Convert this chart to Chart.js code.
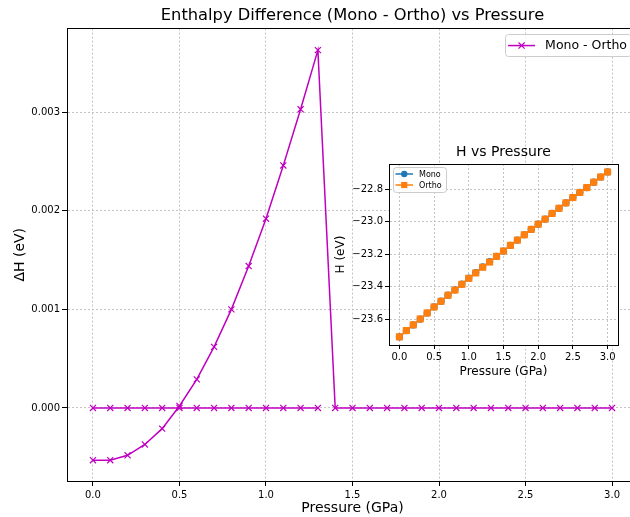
<!DOCTYPE html>
<html>
<head>
<meta charset="utf-8">
<script src="https://cdn.jsdelivr.net/npm/chart.js@4.4.0/dist/chart.umd.min.js"></script>
<style>
  html, body { margin: 0; padding: 0; background: #fff; overflow: hidden; }
  #wrap { position: relative; width: 630px; height: 517px; overflow: hidden; }
  #main { position: absolute; left: 0; top: 0; }
  #inset { position: absolute; left: 320px; top: 130px; }
</style>
</head>
<body>
<div id="wrap">
  <canvas id="main" width="645" height="517"></canvas>
  <canvas id="inset" width="310" height="250"></canvas>
</div>
<script>
// pressure grid (GPa)
const pressure = [0.0, 0.1, 0.2, 0.3, 0.4, 0.5, 0.6, 0.7, 0.8, 0.9, 1.0, 1.1, 1.2, 1.3, 1.4, 1.5,
  1.6, 1.7, 1.8, 1.9, 2.0, 2.1, 2.2, 2.3, 2.4, 2.5, 2.6, 2.7, 2.8, 2.9, 3.0];
// Mono - Ortho enthalpy difference (eV)
const deltaH = [-0.00053, -0.00053, -0.00048, -0.00037, -0.00021, 0.00002, 0.00029, 0.00062,
  0.00100, 0.00144, 0.00192, 0.00246, 0.00303, 0.00363, 0, 0, 0, 0, 0, 0, 0, 0, 0, 0, 0, 0,
  0, 0, 0, 0, 0];
// the flat zero branch below 1.4 GPa
const pressureLow = [0.0, 0.1, 0.2, 0.3, 0.4, 0.5, 0.6, 0.7, 0.8, 0.9, 1.0, 1.1, 1.2, 1.3];
const deltaHLow = [0, 0, 0, 0, 0, 0, 0, 0, 0, 0, 0, 0, 0, 0];

// inset: enthalpy of each phase (eV)
const hMono = [-23.7085, -23.6695, -23.6345, -23.5984, -23.5612, -23.5240, -23.4887, -23.4514,
  -23.4190, -23.3836, -23.3461, -23.3125, -23.2770, -23.2444, -23.213, -23.180, -23.145,
  -23.113, -23.080, -23.047, -23.015, -22.984, -22.949, -22.917, -22.884, -22.851, -22.820,
  -22.790, -22.757, -22.725, -22.694];
const hOrtho = [-23.708, -23.669, -23.634, -23.598, -23.561, -23.524, -23.489, -23.452,
  -23.420, -23.385, -23.348, -23.315, -23.280, -23.248, -23.213, -23.180, -23.145, -23.113,
  -23.080, -23.047, -23.015, -22.984, -22.949, -22.917, -22.884, -22.851, -22.820, -22.790,
  -22.757, -22.725, -22.694];

const xTicks = [0.0, 0.5, 1.0, 1.5, 2.0, 2.5, 3.0];
const yTicks = [0.000, 0.001, 0.002, 0.003];
const insetYTicks = [-23.6, -23.4, -23.2, -23.0, -22.8];

const FONT = "'DejaVu Sans', sans-serif";
Chart.defaults.font.family = FONT;
Chart.defaults.color = '#000';

const MAGENTA = '#bf00bf';
const BLUE = '#1f77b4';
const ORANGE = '#ff7f0e';
const GRID = '#c4c4c4';

const toXY = (xs, ys) => xs.map((x, i) => ({ x, y: ys[i] }));
const align = p => Math.round(p - 0.5) + 0.5;

// white plot background + full matplotlib-like frame
const framePlugin = {
  id: 'frame',
  beforeDraw(chart, args, opts) {
    if (!opts.fill) return;
    const { ctx, chartArea: a } = chart;
    ctx.save();
    ctx.fillStyle = opts.fill;
    ctx.fillRect(a.left, a.top, a.right - a.left, a.bottom - a.top);
    ctx.restore();
  },
  afterDatasetsDraw(chart) {
    const { ctx, chartArea: a } = chart;
    ctx.save();
    ctx.strokeStyle = '#000';
    ctx.lineWidth = 1;
    ctx.strokeRect(align(a.left), align(a.top), align(a.right) - align(a.left), align(a.bottom) - align(a.top));
    ctx.restore();
  }
};

// legend box drawn inside the plot like matplotlib
const boxLegend = {
  id: 'boxLegend',
  afterDraw(chart, args, o) {
    const { ctx, chartArea: a } = chart;
    const items = o.items.map(i => ({ ...i, label: chart.data.datasets[i.index].label }));
    ctx.save();
    ctx.font = o.fontSize + 'px ' + FONT;
    const textW = Math.max(...items.map(i => ctx.measureText(i.label).width));
    const w = o.textX + textW + o.padRight;
    const left = o.side === 'right' ? a.right - o.margin - w : a.left + o.margin;
    const top = a.top + o.marginTop;
    ctx.beginPath();
    ctx.roundRect(align(left), align(top), Math.round(w), Math.round(o.height), 3);
    ctx.fillStyle = 'rgba(255,255,255,0.8)';
    ctx.fill();
    ctx.strokeStyle = '#cccccc';
    ctx.lineWidth = 1;
    ctx.stroke();
    items.forEach((it, k) => {
      const y = top + o.firstY + k * o.rowGap;
      ctx.strokeStyle = it.color;
      ctx.fillStyle = it.color;
      ctx.lineWidth = 1.5;
      ctx.beginPath();
      ctx.moveTo(left + o.lineStart, y);
      ctx.lineTo(left + o.lineEnd, y);
      ctx.stroke();
      ctx.lineWidth = it.borderWidth;
      Chart.helpers.drawPoint(ctx, { pointStyle: it.style, radius: it.radius, rotation: 0, borderWidth: it.borderWidth },
        left + (o.lineStart + o.lineEnd) / 2, y);
      ctx.fillStyle = '#000';
      ctx.textBaseline = 'middle';
      ctx.textAlign = 'left';
      ctx.fillText(it.label, left + o.textX, y + 0.5);
    });
    ctx.restore();
  }
};

function gridOpts(tickLen) {
  return {
    color: GRID,
    tickColor: '#000',
    tickLength: tickLen,
    tickBorderDash: [],
    tickWidth: 1
  };
}

const mainLine = {
  borderColor: MAGENTA,
  borderWidth: 1.5,
  pointStyle: 'crossRot',
  pointRadius: 4.3,
  pointBorderColor: MAGENTA,
  pointBorderWidth: 1.2,
  tension: 0,
  fill: false
};

new Chart(document.getElementById('main'), {
  type: 'line',
  data: {
    datasets: [
      { label: 'Mono - Ortho', data: toXY(pressure, deltaH), ...mainLine },
      { label: 'Mono - Ortho', data: toXY(pressureLow, deltaHLow), ...mainLine }
    ]
  },
  options: {
    responsive: false,
    animation: false,
    layout: { padding: { left: 0, right: 7, top: 0, bottom: 0 } },
    plugins: {
      legend: { display: false },
      tooltip: { enabled: false },
      title: {
        display: true,
        fullSize: false,
        text: 'Enthalpy Difference (Mono - Ortho) vs Pressure',
        font: { size: 16.3, weight: 'normal' },
        color: '#000',
        padding: { top: 6, bottom: 3 }
      },
      frame: {},
      boxLegend: {
        side: 'right', margin: 7, marginTop: 6, height: 22, fontSize: 12.5,
        lineStart: 3, lineEnd: 30, textX: 40, padRight: 4, firstY: 11, rowGap: 0,
        items: [{ index: 0, color: MAGENTA, style: 'crossRot', radius: 4.3, borderWidth: 1.2 }]
      }
    },
    scales: {
      x: {
        type: 'linear',
        min: -0.15,
        max: 3.15,
        afterBuildTicks: s => { s.ticks = xTicks.map(v => ({ value: v })); },
        afterFit: s => { s.height = 36; },
        grid: gridOpts(5),
        border: { display: true, color: '#000', width: 1, dash: [2, 2] },
        ticks: { font: { size: 10 }, padding: 3, maxRotation: 0, callback: v => v.toFixed(1) },
        title: { display: true, text: 'Pressure (GPa)', font: { size: 14 }, padding: { top: 0, bottom: 0 } }
      },
      y: {
        type: 'linear',
        min: -0.000741,
        max: 0.003849,
        afterBuildTicks: s => { s.ticks = yTicks.map(v => ({ value: v })); },
        afterFit: s => { s.width = 67; },
        grid: gridOpts(5),
        border: { display: true, color: '#000', width: 1, dash: [2, 2] },
        ticks: { font: { size: 10 }, padding: 2, callback: v => v.toFixed(3) },
        title: { display: true, text: 'ΔH (eV)', font: { size: 14 }, padding: { top: 12, bottom: 0 } }
      }
    }
  },
  plugins: [framePlugin, boxLegend]
});

new Chart(document.getElementById('inset'), {
  type: 'line',
  data: {
    datasets: [
      {
        label: 'Mono', data: toXY(pressure, hMono), order: 1,
        borderColor: BLUE, borderWidth: 1.5, pointStyle: 'circle', pointRadius: 3.6,
        pointBackgroundColor: BLUE, pointBorderColor: BLUE, pointBorderWidth: 0, tension: 0
      },
      {
        label: 'Ortho', data: toXY(pressure, hOrtho), order: 0,
        borderColor: ORANGE, borderWidth: 1.5, pointStyle: 'rect', pointRadius: 5,
        pointBackgroundColor: ORANGE, pointBorderColor: ORANGE, pointBorderWidth: 0, tension: 0
      }
    ]
  },
  options: {
    responsive: false,
    animation: false,
    layout: { padding: { left: 0, right: 12, top: 0, bottom: 0 } },
    plugins: {
      legend: { display: false },
      tooltip: { enabled: false },
      title: {
        display: true,
        fullSize: false,
        text: 'H vs Pressure',
        font: { size: 14, weight: 'normal' },
        color: '#000',
        padding: { top: 13.6, bottom: 3.6 }
      },
      frame: { fill: '#ffffff' },
      boxLegend: {
        side: 'left', margin: 4, marginTop: 3, height: 25, fontSize: 8,
        lineStart: 2.5, lineEnd: 20, textX: 26, padRight: 4, firstY: 7, rowGap: 11,
        items: [
          { index: 0, color: BLUE, style: 'circle', radius: 3.2, borderWidth: 0 },
          { index: 1, color: ORANGE, style: 'rect', radius: 4.4, borderWidth: 0 }
        ]
      }
    },
    scales: {
      x: {
        type: 'linear',
        min: -0.15,
        max: 3.15,
        afterBuildTicks: s => { s.ticks = xTicks.map(v => ({ value: v })); },
        afterFit: s => { s.height = 35; },
        grid: gridOpts(4),
        border: { display: true, color: '#000', width: 1, dash: [2, 2] },
        ticks: { font: { size: 10 }, padding: 2, maxRotation: 0, callback: v => v.toFixed(1) },
        title: { display: true, text: 'Pressure (GPa)', font: { size: 12 }, padding: { top: 0, bottom: 1 } }
      },
      y: {
        type: 'linear',
        min: -23.758,
        max: -22.645,
        afterBuildTicks: s => { s.ticks = insetYTicks.map(v => ({ value: v })); },
        afterFit: s => { s.width = 69; },
        grid: gridOpts(4),
        border: { display: true, color: '#000', width: 1, dash: [2, 2] },
        ticks: { font: { size: 10 }, padding: 2, callback: v => v.toFixed(1).replace('-', '\u2212') },
        title: { display: true, text: 'H (eV)', font: { size: 12 }, padding: { top: 14, bottom: 0 } }
      }
    }
  },
  plugins: [framePlugin, boxLegend]
});
</script>
</body>
</html>
